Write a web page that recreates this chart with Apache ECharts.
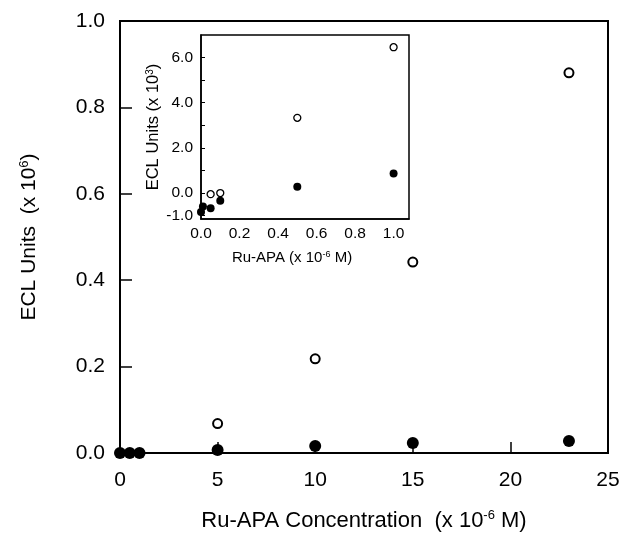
<!DOCTYPE html>
<html>
<head>
<meta charset="utf-8">
<script src="https://cdn.jsdelivr.net/npm/echarts@6/dist/echarts.min.js"></script>
<style>
  html, body { margin: 0; padding: 0; background: #fff; }
  #chart { width: 626px; height: 541px; }
</style>
</head>
<body>
<div id="chart"></div>
<script>
// main plot: ECL units (x 10^6) vs Ru-APA concentration (x 10^-6 M)
const mainOpenX = [5, 10, 15, 23];
const mainOpenY = [0.068, 0.218, 0.442, 0.880];
const mainFilledX = [0, 0.5, 1, 5, 10, 15, 23];
const mainFilledY = [0, 0, 0, 0.007, 0.016, 0.023, 0.028];

// inset: ECL units (x 10^3) vs Ru-APA (x 10^-6 M)
const insetOpenX = [0.05, 0.1, 0.5, 1.0];
const insetOpenY = [-0.05, 0.0, 3.33, 6.46];
const insetFilledX = [0, 0.01, 0.05, 0.1, 0.5, 1.0];
const insetFilledY = [-0.84, -0.6, -0.67, -0.34, 0.28, 0.87];

const insetYLabels = [-1, 0, 2, 4, 6];
const insetYTicks = [-1, 0, 1, 2, 3, 4, 5, 6];

const font = 'Liberation Sans';
const zip = (xs, ys) => xs.map((x, i) => [x, ys[i]]);

const chart = echarts.init(document.getElementById('chart'));

const supRich = (size, sup) => ({
    a: { fontSize: size, fontFamily: font, color: '#000' },
    s: { fontSize: sup, fontFamily: font, color: '#000', verticalAlign: 'bottom', padding: [0, 0, Math.round(size * 0.45), 0] }
});

chart.setOption({
    animation: false,
    backgroundColor: '#fff',
    grid: [
        { left: 120, top: 21, width: 488, height: 432, show: true, borderColor: '#000', borderWidth: 2, backgroundColor: 'transparent' },
        { left: 201, top: 35, width: 208, height: 184, show: true, borderColor: '#000', borderWidth: 1.5, backgroundColor: '#fff' }
    ],
    xAxis: [
        {
            gridIndex: 0, type: 'value', min: 0, max: 25, interval: 5,
            axisLine: { onZero: false, lineStyle: { color: '#000', width: 2 } },
            axisTick: { inside: true, length: 11, lineStyle: { color: '#000', width: 1.5 } },
            axisLabel: { margin: 17, fontSize: 21, fontFamily: font, color: '#000' },
            splitLine: { show: false },
            name: '{a|Ru-APA Concentration  (x 10}{s|-6}{a| M)}',
            nameLocation: 'middle', nameGap: 56,
            nameTextStyle: { rich: supRich(22, 13) }
        },
        {
            gridIndex: 1, type: 'value', min: 0, max: 1.08, interval: 0.2,
            axisLine: { onZero: false, lineStyle: { color: '#000', width: 1.5 } },
            axisTick: { show: false },
            axisLabel: {
                margin: 7, fontSize: 15.5, fontFamily: font, color: '#000',
                formatter: v => v > 1.01 ? '' : v.toFixed(1)
            },
            splitLine: { show: false },
            name: '{a|Ru-APA (x 10}{s|-6}{a| M)}',
            nameLocation: 'middle', nameGap: 31,
            nameTextStyle: { padding: [0, 26, 0, 0], rich: supRich(15, 9) }
        }
    ],
    yAxis: [
        {
            gridIndex: 0, type: 'value', min: 0, max: 1, interval: 0.2,
            axisLine: { onZero: false, lineStyle: { color: '#000', width: 2 } },
            axisTick: { inside: true, length: 12, lineStyle: { color: '#000', width: 1.5 } },
            axisLabel: { margin: 15, fontSize: 21, fontFamily: font, color: '#000', formatter: v => v.toFixed(1) },
            splitLine: { show: false },
            name: '{a|ECL Units  (x 10}{s|6}{a|)}',
            nameLocation: 'middle', nameGap: 80,
            nameTextStyle: { rich: supRich(21, 13) }
        },
        {
            gridIndex: 1, type: 'value', min: -1.15, max: 7.0,
            axisLine: { onZero: false, lineStyle: { color: '#000', width: 1.5 } },
            axisTick: { inside: true, length: 4, customValues: insetYTicks, lineStyle: { color: '#000', width: 1 } },
            axisLabel: {
                margin: 8, fontSize: 15.5, fontFamily: font, color: '#000',
                customValues: insetYLabels, formatter: v => v.toFixed(1)
            },
            splitLine: { show: false },
            name: '{a|ECL Units (x 10}{s|3}{a|)}',
            nameLocation: 'middle', nameGap: 38,
            nameTextStyle: { rich: supRich(16.5, 10) }
        }
    ],
    series: [
        {
            type: 'scatter', xAxisIndex: 0, yAxisIndex: 0, data: zip(mainOpenX, mainOpenY),
            symbol: 'circle', symbolSize: 9,
            itemStyle: { color: '#fff', borderColor: '#000', borderWidth: 2, opacity: 1 }
        },
        {
            type: 'scatter', xAxisIndex: 0, yAxisIndex: 0, data: zip(mainFilledX, mainFilledY),
            symbol: 'circle', symbolSize: 12, clip: false,
            itemStyle: { color: '#000', opacity: 1 }
        },
        {
            type: 'scatter', xAxisIndex: 1, yAxisIndex: 1, data: zip(insetOpenX, insetOpenY),
            symbol: 'circle', symbolSize: 7, z: 5,
            itemStyle: { color: '#fff', borderColor: '#000', borderWidth: 1.3, opacity: 1 }
        },
        {
            type: 'scatter', xAxisIndex: 1, yAxisIndex: 1, data: zip(insetFilledX, insetFilledY),
            symbol: 'circle', symbolSize: 8, clip: false, z: 5,
            itemStyle: { color: '#000', opacity: 1 }
        }
    ]
});
</script>
</body>
</html>
